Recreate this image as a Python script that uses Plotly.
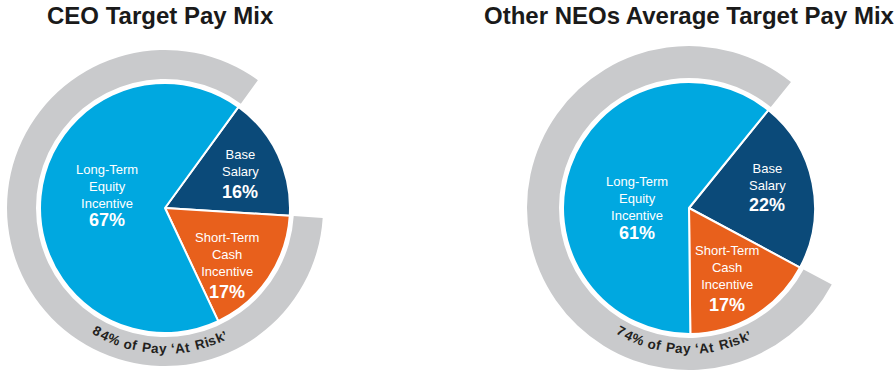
import math
import plotly.graph_objects as go

# ---------------- data ----------------
categories = ["Base Salary", "Short-Term Cash Incentive", "Long-Term Equity Incentive"]
label_text = ["Base<br>Salary", "Short-Term<br>Cash<br>Incentive", "Long-Term<br>Equity<br>Incentive"]
chart_titles = ["CEO Target Pay Mix", "Other NEOs Average Target Pay Mix"]
ceo_values = [16, 17, 67]
neo_values = [22, 17, 61]
at_risk_pct = [84, 74]

# ---------------- styling / layout ----------------
W, H = 894, 374
COLORS = ["#0B4A79", "#E8601C", "#00A8E0"]
RING = "#C9CACC"
FONT = "Arial, Liberation Sans, Helvetica, sans-serif"

charts = [
    dict(values=ceo_values, risk=at_risk_pct[0], title=chart_titles[0], cx=165, cy=208, r=125,
         ring_in=129, ring_out=158, rot=36, title_x=160,
         lab=[(75, -45), (62, 46), (-58, -22)], pct=[(75, -16), (62, 84), (-58, 12)]),
    dict(values=neo_values, risk=at_risk_pct[1], title=chart_titles[1], cx=689, cy=208, r=126,
         ring_in=130, ring_out=162, rot=39, title_x=689,
         lab=[(78, -31), (38, 59), (-52, -10)], pct=[(78, -3), (38, 97), (-52, 25)]),
]

# Liberation Sans Bold advance widths (per 1000 em)
CW = {"%": 889, " ": 278, "o": 611, "f": 333, "P": 667, "a": 556, "y": 556, "\u2018": 278,
      "\u2019": 278, "A": 722, "t": 333, "R": 722, "i": 278, "s": 556, "k": 556}


def px(x):
    return x / W


def py(y):
    return 1 - y / H


def dom(cx, cy, r):
    return dict(x=[px(cx - r), px(cx + r)], y=[py(cy + r), py(cy - r)])


fig = go.Figure()
annotations = []

for c in charts:
    vals = c["values"]
    ring_span = sum(vals[1:])
    # outer "at risk" ring (covers the variable-pay slices)
    fig.add_trace(go.Pie(
        values=[vals[0], ring_span], labels=["base", "at risk"], sort=False, direction="clockwise",
        rotation=c["rot"], hole=c["ring_in"] / c["ring_out"],
        marker=dict(colors=["rgba(0,0,0,0)", RING], line=dict(width=0)),
        textinfo="none", hoverinfo="skip", domain=dom(c["cx"], c["cy"], c["ring_out"]),
        showlegend=False))
    # main pie
    fig.add_trace(go.Pie(
        values=vals, labels=categories, sort=False, direction="clockwise", rotation=c["rot"],
        marker=dict(colors=COLORS, line=dict(color="white", width=2)),
        textinfo="none", domain=dom(c["cx"], c["cy"], c["r"]), showlegend=False))

    # title
    annotations.append(dict(x=px(c["title_x"]), y=py(15), xref="paper", yref="paper",
                            text=f"<b>{c['title']}</b>", showarrow=False,
                            font=dict(family=FONT, size=24, color="#1a1a1a"),
                            xanchor="center", yanchor="middle"))
    # slice labels
    for i in range(len(vals)):
        lx, ly = c["lab"][i]
        qx, qy = c["pct"][i]
        annotations.append(dict(x=px(c["cx"] + lx), y=py(c["cy"] + ly), xref="paper", yref="paper",
                                text=label_text[i], showarrow=False,
                                font=dict(family=FONT, size=13, color="white"),
                                xanchor="center", yanchor="middle", align="center", borderpad=0))
        annotations.append(dict(x=px(c["cx"] + qx), y=py(c["cy"] + qy), xref="paper", yref="paper",
                                text=f"<b>{vals[i]}%</b>", showarrow=False,
                                font=dict(family=FONT, size=18, color="white"),
                                xanchor="center", yanchor="middle", borderpad=0))

    # curved ring text
    txt = f"{c['risk']}% of Pay \u2018At Risk\u2019"
    fs = 13.5
    spacing = 0.5
    rt = 141
    widths = [CW.get(ch, 556) * fs / 1000 for ch in txt]
    total = sum(widths) + spacing * (len(txt) - 1)
    center_ang = math.radians(-92)
    start = center_ang - (total / rt) / 2
    cum = 0.0
    for ch, w in zip(txt, widths):
        th = start + (cum + w / 2) / rt
        cum += w + spacing
        if ch == " ":
            continue
        x = c["cx"] + rt * math.cos(th)
        y = c["cy"] - rt * math.sin(th)
        annotations.append(dict(x=px(x), y=py(y), xref="paper", yref="paper", text=f"<b>{ch}</b>",
                                showarrow=False, textangle=-(math.degrees(th) + 90),
                                font=dict(family=FONT, size=fs, color="#231F20"),
                                xanchor="center", yanchor="middle", borderpad=0))

fig.update_layout(width=W, height=H, margin=dict(l=0, r=0, t=0, b=0),
                  paper_bgcolor="white", plot_bgcolor="white", annotations=annotations,
                  showlegend=False)

fig.write_html("out.html", config={"displayModeBar": False},
               post_script="document.body.style.margin='0';document.body.style.overflow='hidden';")
